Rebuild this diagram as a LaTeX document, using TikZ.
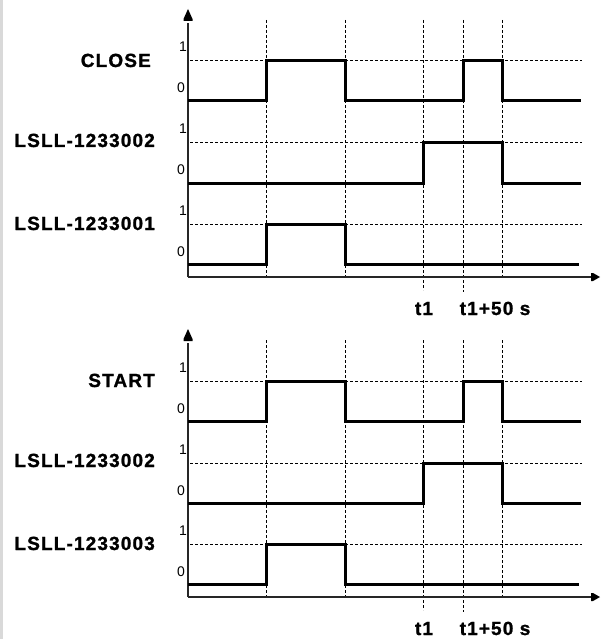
\documentclass[tikz,border=0pt]{standalone}
\usepackage{fontspec}
\setmainfont{Liberation Sans}
\newfontfamily\lblfont[LetterSpace=6,FakeBold=1.2]{Liberation Sans Bold}
\begin{document}
\begin{tikzpicture}[x=1pt,y=-1pt,
  signal/.style={line width=3pt, line join=miter},
  guide/.style={line width=1pt, dash pattern=on 3pt off 2pt},
  axis/.style={line width=1.3pt, black!85},
  tip/.style={fill=black},
  sig label/.style={font=\lblfont\fontsize{19}{19}\selectfont, anchor=base east, inner sep=0pt},
  lvl/.style={font=\fontsize{14}{14}\selectfont, anchor=base, inner sep=0pt},
  time label/.style={sig label, anchor=base}]
\useasboundingbox (0,0) rectangle (600,639);
\fill[white] (0,0) rectangle (600,639);
\fill[black!15] (0,0) rectangle (3,639);

\foreach \oy/\first/\third/\fx in {0/CLOSE/LSLL-1233001/151, 320/START/LSLL-1233003/155}{
  \begin{scope}[shift={(0,\oy)}]
    % time markers
    \foreach \tx/\ty in {266/277,345/277,423/290,463/292,502/277}
      \draw[guide] (\tx,20) -- (\tx,\ty);
    % level-1 reference lines
    \foreach \hy in {61,143,224}
      \draw[guide] (190,\hy) -- (582,\hy);
    % axes with filled arrow heads
    \coordinate (orig-\oy) at (188,277);
    \coordinate (ytip-\oy) at (188,9);
    \coordinate (xtip-\oy) at (600,277);
    \draw[axis] (orig-\oy) -- ([yshift=-14pt]ytip-\oy);
    \draw[axis] (orig-\oy) -- ([xshift=-6pt]xtip-\oy);
    \fill[tip] (ytip-\oy) -- ++(4.5,10) -- ++(0,2) -- ++(-9,0) -- ++(0,-2) -- cycle;
    \fill[tip] (xtip-\oy) -- ++(-7,4) -- ++(-2,0) -- ++(0,-8) -- ++(2,0) -- cycle;
    % signal names
    \node[sig label] (name-a-\oy) at (\fx,67) {\first};
    \node[sig label] (name-b-\oy) at (155,147) {LSLL-1233002};
    \node[sig label] (name-c-\oy) at (155,230) {\third};
    % logic levels
    \foreach \h/\l/\r in {61/101/a, 143/183/b, 224/264/c}{
      \node[lvl] (one-\r-\oy) at (183,\h-9) {1};
      \node[lvl] (zero-\r-\oy) at (181,\l-8) {0};
    }
    % waveforms
    \draw[signal] (188,101) -| (266,61) -| (345,101) -| (463,61) -| (502,101) -- (581,101);
    \draw[signal] (188,183) -| (423,143) -| (502,183) -- (581,183);
    \draw[signal] (188,264) -| (266,224) -| (345,264) -- (579,264);
    % time labels
    \node[time label] (t1-\oy) at (424,315) {t1};
    \node[time label] (t50-\oy) at (495,315) {t1+50 s};
  \end{scope}
}
\end{tikzpicture}
\end{document}
